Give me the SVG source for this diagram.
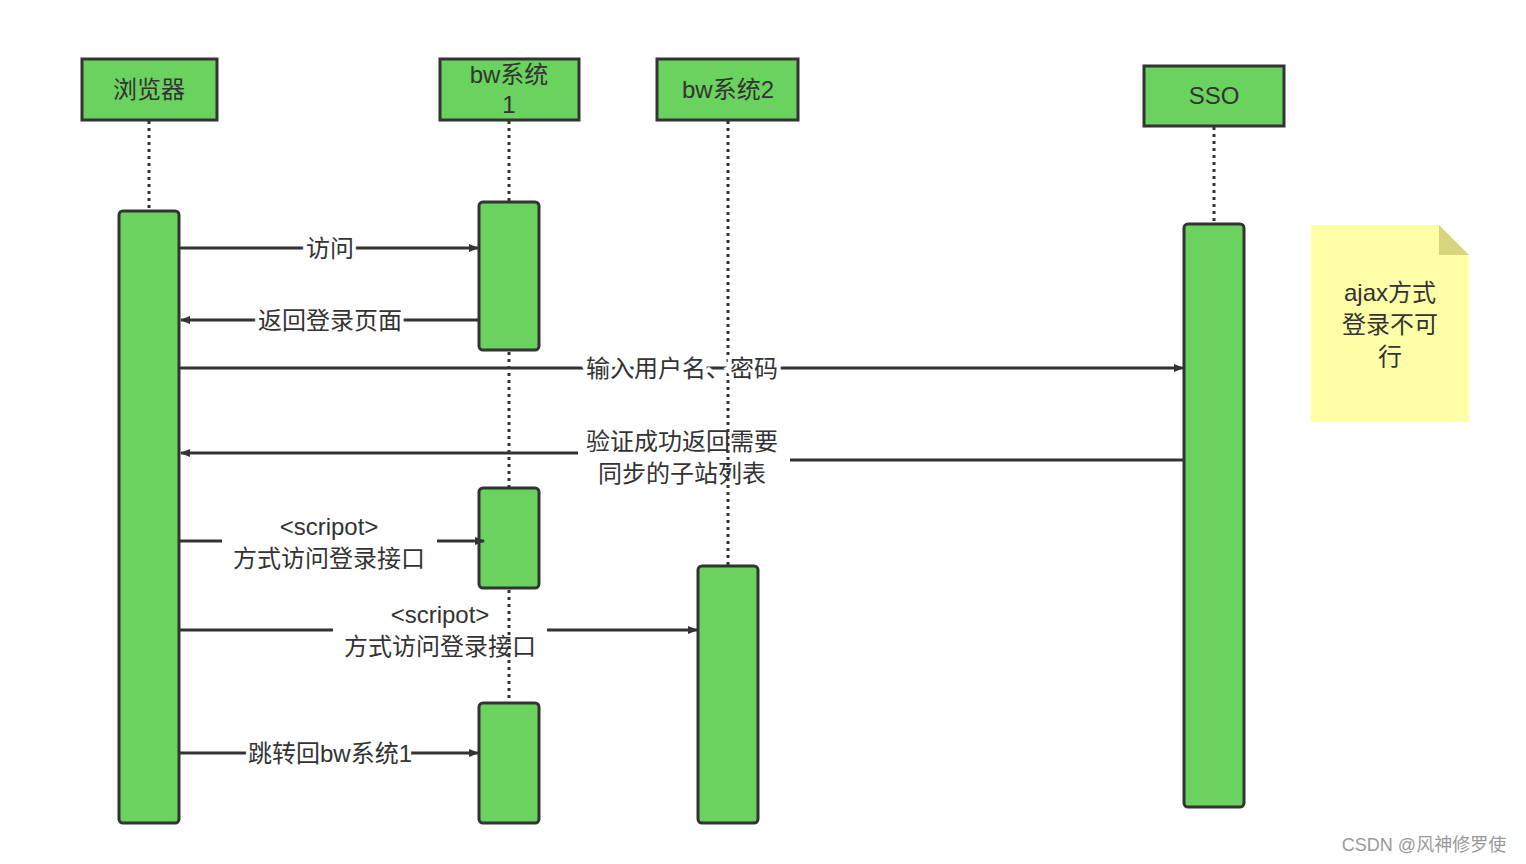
<svg xmlns="http://www.w3.org/2000/svg" width="1526" height="864" viewBox="0 0 1526 864">
<style>
.box{fill:#6ad25f;stroke:#333;stroke-width:3}
.act{fill:#6ad25f;stroke:#333;stroke-width:3}
.life{stroke:#333;stroke-width:3;stroke-dasharray:3,4;fill:none}
.msg{stroke:#333;stroke-width:3;fill:none}
text{font-family:"Liberation Sans","Noto Sans CJK SC",sans-serif;font-size:24px;fill:#333;text-anchor:middle}
.lbl{stroke:#fff;stroke-width:8;paint-order:stroke}
</style>
<defs>
<marker id="ah" markerWidth="10" markerHeight="8" refX="9" refY="4" orient="auto" markerUnits="userSpaceOnUse" viewBox="0 0 10 8"><path d="M0,0 L10,4 L0,8z" fill="#333"/></marker>
</defs>
<rect width="1526" height="864" fill="#fff"/>
<g id="lifelines">
<line class="life" x1="149" y1="121" x2="149" y2="211"/>
<line class="life" x1="509" y1="121" x2="509" y2="703"/>
<line class="life" x1="728" y1="121" x2="728" y2="566"/>
<line class="life" x1="1214" y1="127" x2="1214" y2="224"/>
</g>
<g id="browser"><rect class="box" x="82" y="59" width="135" height="61"/><text x="149" y="98">浏览器</text>
<rect class="act" x="119" y="211" width="60" height="612" rx="4"/></g>
<g id="bw1"><rect class="box" x="440" y="59" width="139" height="61"/><text x="509" y="83">bw系统</text><text x="509" y="113">1</text>
<rect class="act" x="479" y="202" width="60" height="148" rx="4"/>
<rect class="act" x="479" y="488" width="60" height="100" rx="4"/>
<rect class="act" x="479" y="703" width="60" height="120" rx="4"/></g>
<g id="bw2"><rect class="box" x="657" y="59" width="141" height="61"/><text x="728" y="98">bw系统2</text>
<rect class="act" x="698" y="566" width="60" height="257" rx="4"/></g>
<g id="sso"><rect class="box" x="1144" y="66" width="140" height="60"/><text x="1214" y="104">SSO</text>
<rect class="act" x="1184" y="224" width="60" height="583" rx="4"/></g>
<g id="note"><path d="M1311,225 H1439 L1469,255 V422 H1311Z" fill="#ffffa8"/><path d="M1439,225 L1469,255 H1439Z" fill="#d6d680"/>
<text x="1390" y="301">ajax方式</text><text x="1390" y="333">登录不可</text><text x="1390" y="365">行</text></g>
<g id="connectors">
<line class="msg" x1="180" y1="248" x2="478" y2="248" marker-end="url(#ah)"/>
<line class="msg" x1="478" y1="320" x2="181" y2="320" marker-end="url(#ah)"/>
<line class="msg" x1="180" y1="368" x2="1183" y2="368" marker-end="url(#ah)"/>
<line class="msg" x1="1184" y1="460" x2="790" y2="460"/>
<line class="msg" x1="578" y1="453" x2="181" y2="453" marker-end="url(#ah)"/>
<line class="msg" x1="180" y1="541" x2="222" y2="541"/>
<line class="msg" x1="437" y1="541" x2="484" y2="541" marker-end="url(#ah)"/>
<line class="msg" x1="180" y1="630" x2="333" y2="630"/>
<line class="msg" x1="547" y1="630" x2="697" y2="630" marker-end="url(#ah)"/>
<line class="msg" x1="180" y1="753" x2="478" y2="753" marker-end="url(#ah)"/>
<text class="lbl" x="330" y="257">访问</text>
<text class="lbl" x="330" y="329">返回登录页面</text>
<text class="lbl" x="682" y="377">输入用户名、密码</text>
<text x="682" y="450">验证成功返回需要</text>
<text x="682" y="482">同步的子站列表</text>
<text x="329" y="535">&lt;scripot&gt;</text>
<text x="329" y="567">方式访问登录接口</text>
<text x="440" y="623">&lt;scripot&gt;</text>
<text x="440" y="655">方式访问登录接口</text>
<text class="lbl" x="330" y="762">跳转回bw系统1</text>
</g>
<text x="1424" y="851" style="font-size:18px;fill:#999">CSDN @风神修罗使</text>
</svg>
